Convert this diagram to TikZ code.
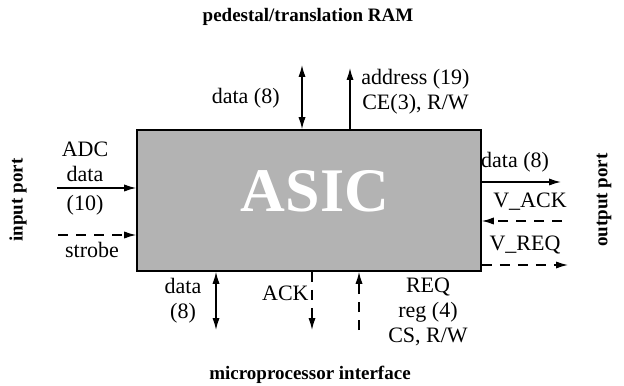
\documentclass[tikz,border=0pt]{standalone}
\usepackage{fontspec}
\setmainfont{Liberation Serif}
\usepackage{tikz}
\usetikzlibrary{arrows.meta, positioning, calc}
\definecolor{chipgray}{HTML}{B3B3B3}
\tikzset{
	chipnode/.style={
			shape=rectangle,
			draw=black,
			thick,
			fill=chipgray,
			minimum width=172pt,
			minimum height=70.5pt,
			inner sep=0pt
		},
	chiptext/.style={
			font=\fontsize{31}{31}\selectfont\bfseries,
			text=white,
			inner sep=0pt
		},
	labelnode/.style={
			font=\fontsize{11}{12.5}\selectfont,
			align=center,
			inner sep=1pt
		},
	portnode/.style={
			font=\fontsize{9.5}{12}\selectfont\bfseries,
			inner sep=0pt
		},
	busline/.style={
			line width=0.7pt,
			-{Latex[length=6pt,width=3.6pt]}
		},
	busboth/.style={
			line width=0.7pt,
			{Latex[length=6pt,width=3.6pt]}-{Latex[length=6pt,width=3.6pt]}
		},
	ctrlline/.style={
			busline,
			dash pattern=on 5pt off 4pt
		}
}

\begin{document}
\begin{tikzpicture}[x=0.5pt,y=0.5pt]

  \useasboundingbox (0,0) rectangle (624,385);

  \node[chipnode] (asic) at (309,184.5) {};
  \node[chiptext] (asictext) at (315,194) {ASIC};

  \node[portnode] (ramtitle) at (308,368) {pedestal/translation RAM};
  \node[portnode] (mptitle) at (310,10) {microprocessor interface};
  \node[portnode, rotate=90] (inport) at (18,185) {input port};
  \node[portnode, rotate=90] (outport) at (604,185) {output port};

  \coordinate (ramdata) at (302,320);
  \coordinate (ramaddr) at (350,317);
  \coordinate (mpdata) at (216,55);
  \coordinate (mpack) at (312,55);
  \coordinate (mpreq) at (359,55);
  \coordinate (adcin) at (57,197);
  \coordinate (strobein) at (58,150);
  \coordinate (dataout) at (561,203);
  \coordinate (vackin) at (562,164);
  \coordinate (vreqout) at (568,120);

  \draw[busboth] (ramdata |- asic.north) -- (ramdata);
  \draw[busline] (ramaddr |- asic.north) -- (ramaddr);
  \draw[busboth] (mpdata |- asic.south) -- (mpdata);
  \draw[ctrlline] (mpack |- asic.south) -- (mpack);
  \draw[ctrlline] (mpreq) -- (mpreq |- asic.south);
  \draw[busline] (adcin) -- (adcin -| asic.west);
  \draw[ctrlline] (strobein) -- (strobein -| asic.west);
  \draw[busline] (dataout -| asic.east) -- (dataout);
  \draw[ctrlline] (vackin) -- (vackin -| asic.east);
  \draw[ctrlline] (vreqout -| asic.east) -- (vreqout);

  \node[labelnode, anchor=east] (ramdatalbl) at (282,287) {data (8)};
  \node[labelnode, anchor=west] (ramaddrlbl) at (359,293) {address (19)\\CE(3), R/W};
  \node[labelnode] (mpdatalbl) at (183,84) {data\\(8)};
  \node[labelnode, anchor=east] (mpacklbl) at (311,92) {ACK};
  \node[labelnode] (mpreqlbl) at (428,73) {REQ\\reg (4)\\CS, R/W};
  \node[labelnode] (adclbl) at (85,223) {ADC\\data};
  \node[labelnode] (adcwidth) at (85,180) {(10)};
  \node[labelnode] (strobelbl) at (92,135) {strobe};
  \node[labelnode] (dataoutlbl) at (515,223) {data (8)};
  \node[labelnode] (vacklbl) at (530,183) {V\_ACK};
  \node[labelnode] (vreqlbl) at (525,140) {V\_REQ};

\end{tikzpicture}
\end{document}
